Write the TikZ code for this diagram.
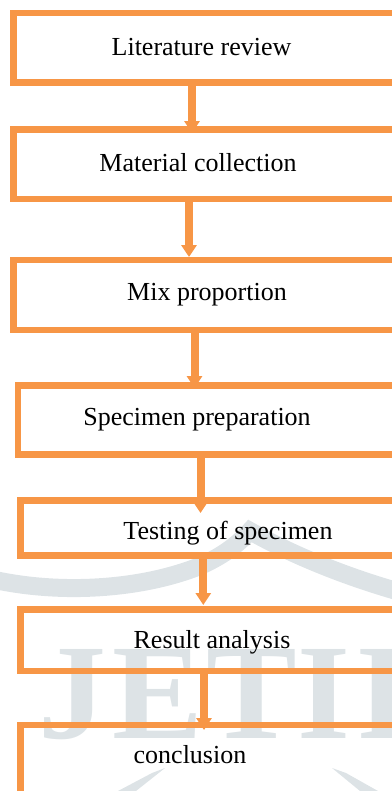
\documentclass[tikz,border=0pt]{standalone}
\usepackage{fontspec}
\setmainfont{Liberation Serif}
\usetikzlibrary{arrows.meta,calc}
\definecolor{acc}{HTML}{F79646}
\definecolor{wm}{HTML}{DDE3E6}
\begin{document}
\begin{tikzpicture}[x=1bp,y=-1bp,
  box/.style={draw=acc,line width=6.5bp,rectangle,inner sep=0pt,outer sep=0pt,anchor=north west,minimum width=420bp},
  lbl/.style={font=\fontsize{26bp}{31bp}\selectfont,anchor=base,inner sep=0pt,text=black},
  arr/.style={draw=acc,line width=8bp,-{Triangle[width=15bp,length=12bp]}},
  wmark/.style={text=wm,font=\fontsize{136bp}{150bp}\selectfont\bfseries,anchor=base,inner sep=0pt}]
\useasboundingbox (0,0) rectangle (391,791);
% watermark
\draw[wm,line width=18bp] (-5,580) .. controls (60,594) and (140,590) .. (200,566)
  .. controls (225,555) and (240,542) .. (250,531)
  .. controls (280,548) and (330,572) .. (400,592);
\node[wmark] (wJ) at (72,738) {J};
\node[wmark] (wE) at (158,738) {E};
\node[wmark] (wT) at (252,738) {T};
\node[wmark] (wI) at (324,738) {I};
\node[wmark] (wR) at (408,738) {R};
\fill[wm] (165,768) -- (152,773) -- (118,791) -- (136,791) -- cycle;
\fill[wm] (332,768) -- (346,773) -- (378,791) -- (360,791) -- cycle;
% boxes
\node[box,minimum height=69.5bp] (b1) at (13.5,13) {};
\node[box,minimum height=69.5bp] (b2) at (13.5,129.5) {};
\node[box,minimum height=70bp] (b3) at (13.5,260) {};
\node[box,minimum height=69bp] (b4) at (18,385.5) {};
\node[box,minimum height=55bp] (b5) at (20.5,500.5) {};
\node[box,minimum height=61.5bp] (b6) at (20.5,609.5) {};
\node[box,minimum height=120bp] (b7) at (20.5,725) {};
% labels
\node[lbl] (t1) at (201.5,56) {Literature review};
\node[lbl] (t2) at (198,171) {Material collection};
\node[lbl] (t3) at (207,300) {Mix proportion};
\node[lbl] (t4) at (197,425) {Specimen preparation};
\node[lbl] (t5) at (228,539) {Testing of specimen};
\node[lbl] (t6) at (212,648) {Result analysis};
\node[lbl] (t7) at (190,763) {conclusion};
% arrows
\draw[arr] ($(b1.south west)+(178.5,0)$) -- ($(b2.north west)+(178.5,3.5)$);
\draw[arr] ($(b2.south west)+(175.5,0)$) -- ($(b3.north west)+(175.5,-3)$);
\draw[arr] ($(b3.south west)+(181,0)$) -- ($(b4.north west)+(176.5,2.5)$);
\draw[arr] ($(b4.south west)+(182.5,0)$) -- ($(b5.north west)+(180,12.5)$);
\draw[arr] ($(b5.south west)+(182.8,0)$) -- ($(b6.north west)+(182.8,-4.5)$);
\draw[arr] ($(b6.south west)+(183.5,0)$) -- ($(b7.north west)+(183.5,5)$);
\end{tikzpicture}
\end{document}
